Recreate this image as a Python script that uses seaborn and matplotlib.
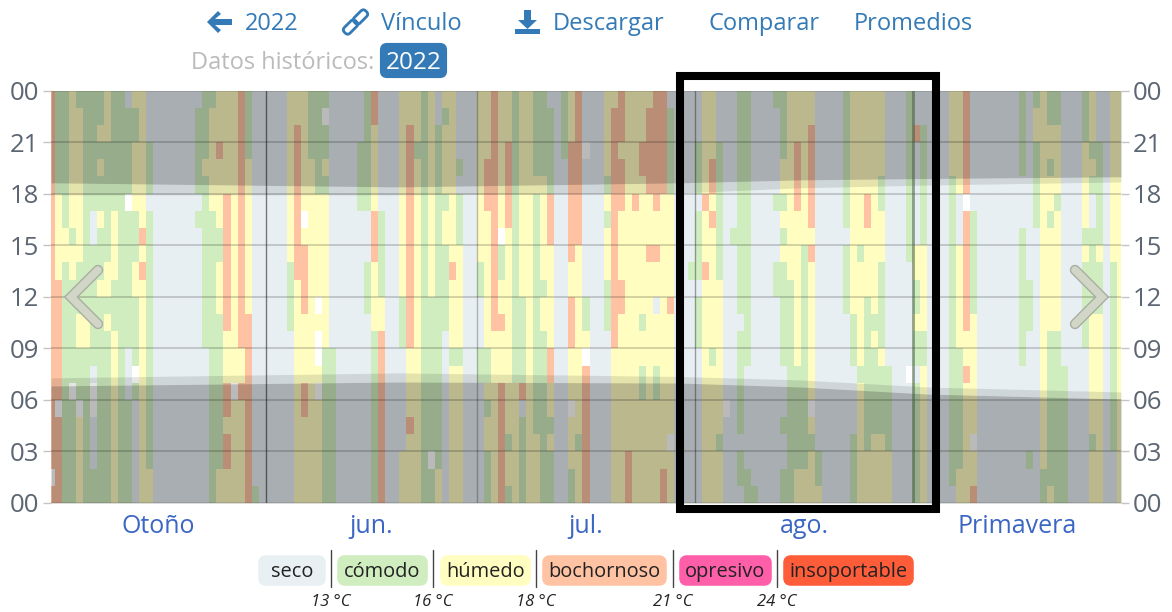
#!/usr/bin/env python3
"""Daily humidity comfort bands by hour, with night shading and page controls."""

import re

import matplotlib
matplotlib.use("Agg")
import matplotlib.pyplot as plt
import matplotlib.patheffects as pe
import numpy as np
import seaborn as sns
from matplotlib.colors import ListedColormap
from matplotlib.patches import FancyBboxPatch, Polygon, Rectangle
from matplotlib.transforms import Affine2D

# one entry per day, hours from 23 (top) down to 00; letter + run length
DAY_RUNS = [
    "b22w1b1", "c6h5b7w1b5", "c8h2c14", "h8c1h2c6w1c6", "c1h9c3h2c3w1h5", "c13h2c9",
    "c7s2c7s1w2s3c2", "c2h1c1h1c2h1c3h1c12", "h3c7h2c1h1c10", "c7h4c3h10", "c24",
    "s1c5w1c8s3c6", "h1c2h4c3h2c4w1c1s6", "h8b1h1b1h13", "s3c3s1c15h2",
    "s24", "s24", "s24", "s24", "s24", "s24", "s1c5s1c1s16", "c4h1c10s9", "c1h6c17",
    "h3b1h4c2h3c9h2", "h6b8h3b2h1b2h2", "h17w1h6", "b15h2b1h6", "c4h9b11", "s23c1",
    "s24", "s24", "s24", "s24", "h10c4s10", "h2b9h13", "h7w1h1b4h4b2h5", "c4h20",
    "c6h6w1h1w2h1w1h6", "c1w1c2h1c1h9c9", "s15c9", "s24", "s24", "s24", "s3c4s17",
    "c7s3c3s11", "b2h5b3h4c10", "s7c5h2b10", "s24", "s24",
    "h12c3s6h3", "h2b13h4b1h4", "h3c1h20", "c24", "h12c9w1c2", "s2c20h2",
    "h1c1h4c1h2c5s10", "h10b1h4c1h8", "s4c1s1c3h6c1h8", "s24", "s24", "h10c2s3c2s7",
    "h4b3h8c2h1c1h2c3", "b14h10", "h8w1c2h2b1h3b7", "h3b5h12c1h2c1", "c17h7",
    "h12c5b1s1c5", "h24", "c5h1c14h4", "c5h6c1h2c10", "s1c5b3h6b2h2c1h1c3", "s24",
    "c4s20", "h3b7h2b3h3w1h3c2", "b9h11c1h3", "s3w1s8c2h1w1b8", "s24", "s24",
    "h5c1h1c1h3c3s10", "h1b14h9", "b3h1b3h4b2h11", "h21b3", "h6b1h17",
    "h3b2h8c1h2c2h6", "h1b5h3b1h14", "b7h2b1h2s1h3c2h6", "b6h16b2", "s1c5h6b1h7w1h3",
    "s24", "s24", "s10c1s13", "s3c3s1c4s1c3s9", "h6b1h3b1h13", "h4b2h1b1h7c1h8",
    "s3c8h9c1h3", "s18w1s5", "s8c1s15", "c13s1c6s1c2s1", "c16s6c2", "s23c1", "s24",
    "s24", "c1s5c1s3c2s12", "c4h2c1h1c1h1c6s3c1s2c2", "h11c13", "h3b4h9c6h2", "h9c13h2",
    "h2b6h1b1h8w1h1c1h3", "s21c2h1", "s24", "s24", "s24", "c8s1c4s11", "h13c3s4c4",
    "h9c1h6c1h7", "h6b2h4c9h3", "h13c1h1c5h4", "h5c2h3c5h1c4h4", "s16c5h3", "s24", "s24",
    "c10s6w1s7", "s2b1s6h2c2h1c2s1c7", "s2c7h5c2h8", "s24", "s24", "s24", "h5c18s1",
    "h6s3h6c7h2", "b6w1b7h2b1h7", "s7c6h7w1h2b1", "s24", "s24", "s24", "s24", "s24", "s24",
    "c5s3c8s8", "s11c3s7c1s2", "c1h2c5s16", "h22c2", "c2h2c1h2c1h6c9h1", "c2h4c1h7c10",
    "s16c8", "s24", "s24", "c3h5c1h1c5s9", "h3c1h1c1s2c5h7c1h3", "s3c6h1c3h11", "s24",
    "h10c11s3", "h24",
]

LEVELS = ["s", "c", "h", "b", "w"]
LEVEL_COLORS = ["#E7EFF3", "#CFEDBF", "#FFFDC0", "#FFC3A3", "#FFFFFF"]

HOUR_LABELS = ["00", "21", "18", "15", "12", "09", "06", "03", "00"]
MONTH_LABELS = ["Otoño", "jun.", "jul.", "ago.", "Primavera"]

# light-curve knots, as day position and hour of day
KNOT_DAYS = [0.5, 50, 90, 107, 125, 152.5]
DUSK_DARK = [18.63, 18.39, 18.63, 18.80, 18.88, 18.98]
DUSK_LIGHT = [17.93, 17.93, 18.04, 18.34, 18.50, 18.68]
DAWN_LIGHT = [7.28, 7.57, 7.36, 7.16, 6.75, 6.46]
DAWN_DARK = [6.81, 7.04, 6.98, 6.75, 6.34, 6.05]

LEGEND_NAMES = ["seco", "cómodo", "húmedo", "bochornoso", "opresivo", "insoportable"]
LEGEND_COLORS = ["#E9F0F3", "#CFEDBF", "#FFFDC0", "#FFC3A3", "#FF5FA8", "#FF5C3A"]
LEGEND_LIMITS = ["13 °C", "16 °C", "18 °C", "21 °C", "24 °C"]

LINK = "#337AB7"
AXIS_TEXT = "#5C6672"


def decode_days() -> np.ndarray:
    columns = []
    for runs in DAY_RUNS:
        cells = []
        for letter, n in re.findall(r"([a-z])(\d+)", runs):
            cells += [LEVELS.index(letter)] * int(n)
        assert len(cells) == 24, runs
        columns.append(cells)
    return np.array(columns).T


def draw_heatmap(ax) -> None:
    sns.heatmap(
        decode_days(),
        cmap=ListedColormap(LEVEL_COLORS),
        vmin=-0.5,
        vmax=4.5,
        cbar=False,
        ax=ax,
    )
    ax.set_xlim(0.5, 152.5)
    ax.set_ylim(24, 0)

    to_y = lambda hours: 24 - np.array(hours)
    ax.fill_between(KNOT_DAYS, 0, to_y(DUSK_DARK), color="black", alpha=0.27, lw=0)
    ax.fill_between(KNOT_DAYS, to_y(DUSK_DARK), to_y(DUSK_LIGHT), color="black", alpha=0.1, lw=0)
    ax.fill_between(KNOT_DAYS, to_y(DAWN_LIGHT), to_y(DAWN_DARK), color="black", alpha=0.1, lw=0)
    ax.fill_between(KNOT_DAYS, to_y(DAWN_DARK), 24, color="black", alpha=0.27, lw=0)

    ticks = np.arange(0, 25, 3)
    for y in ticks:
        ax.axhline(y, color="black", alpha=0.2 if 0 < y < 24 else 0.12, lw=1.2)
    ax.axvline(31, color="black", alpha=0.5, lw=1.0)
    ax.axvline(61, color="black", alpha=0.25, lw=1.0)
    ax.axvline(92, color="black", alpha=0.35, lw=1.0)
    ax.axvline(123, color="#3F5A3A", alpha=0.55, lw=2.0)

    ax.set_yticks(ticks, HOUR_LABELS, rotation=0)
    ax.tick_params(axis="y", length=5.5, width=1, color="#C4C4C4",
                   labelcolor=AXIS_TEXT, labelsize=18.5, pad=3)
    right = ax.twinx()
    right.set_ylim(24, 0)
    right.set_yticks(ticks, HOUR_LABELS)
    right.tick_params(axis="y", length=5.5, width=1, color="#C4C4C4",
                      labelcolor=AXIS_TEXT, labelsize=18.5, pad=3)
    for label in ax.get_yticklabels() + right.get_yticklabels():
        label.set_verticalalignment("center_baseline")

    ax.set_xticks([31, 61], ["", ""])
    ax.tick_params(axis="x", length=6.5, width=1, color="#C8C8C8")
    ax.set_xticks([15.75, 46, 76.5, 107.5, 137.75], MONTH_LABELS, minor=True)
    ax.tick_params(axis="x", which="minor", length=0, labelsize=18,
                   labelcolor="#3B66C4", pad=8)
    for ax_ in (ax, right):
        sns.despine(ax=ax_, left=True, bottom=True)


def draw_icons(ui) -> None:
    # back arrow
    ui.add_patch(Polygon(
        [(207, 22), (218, 11), (221, 14), (215, 19), (232, 19), (232, 25), (215, 25),
         (221, 30), (218, 33)],
        color=LINK, lw=0,
    ))
    # chain link
    for cx, cy in [(360.5, 17), (350.5, 27)]:
        ui.add_patch(FancyBboxPatch(
            (-4, -8), 8, 16, boxstyle="round,pad=0,rounding_size=3.5", fill=False,
            ec=LINK, lw=2.0,
            transform=Affine2D().rotate_deg(45).translate(cx, cy) + ui.transData,
        ))
    # download tray and arrow
    ui.add_patch(Polygon(
        [(524, 10), (531, 10), (531, 20), (537, 20), (527.5, 29), (518, 20), (524, 20)],
        color=LINK, lw=0,
    ))
    ui.add_patch(Rectangle((515, 29), 25, 5, color=LINK, lw=0))


def draw_controls(ui) -> None:
    draw_icons(ui)
    nav_font = dict(color=LINK, fontsize=17, va="center", ha="left")
    for x, label in [(245, "2022"), (381, "Vínculo"), (553, "Descargar"),
                     (708, "Comparar"), (854, "Promedios")]:
        ui.text(x, 23.5, label, **nav_font)
    ui.text(191, 63, "Datos históricos:", color="#BBBBBB", fontsize=17, va="center")
    ui.add_patch(FancyBboxPatch((382, 45), 63, 31, boxstyle="round,pad=0,rounding_size=5",
                                mutation_aspect=1, fc=LINK, ec=LINK, lw=3))
    ui.text(413.5, 63, "2022", color="white", fontsize=17.5, ha="center", va="center")

    # prev / next chevrons
    for xs in ([98, 71, 98], [1075, 1102, 1075]):
        ui.plot(xs, [270, 297, 324], color="#D6DBCB", alpha=0.9, lw=5.5,
                solid_capstyle="round", solid_joinstyle="miter",
                path_effects=[pe.Stroke(linewidth=7.5, foreground="#A9ADA3"), pe.Normal()])

    # selection frame round August
    ui.add_patch(Rectangle((680, 75.5), 256, 433, fill=False, ec="black", lw=5.8,
                           joinstyle="miter"))


def draw_legend(ui) -> None:
    left = [258, 337, 440, 542, 679, 783]
    right = [326, 428, 531, 667, 772, 914]
    for x0, x1, name, color in zip(left, right, LEGEND_NAMES, LEGEND_COLORS):
        ui.add_patch(FancyBboxPatch((x0 + 3, 558), x1 - x0 - 6, 25,
                                    boxstyle="round,pad=0,rounding_size=5",
                                    fc=color, ec=color, lw=4))
        ui.text((x0 + x1) / 2, 572, name, color="#222222", fontsize=14.4,
                ha="center", va="center")
    for x, label in zip([331, 433, 536, 673, 777], LEGEND_LIMITS):
        ui.plot([x, x], [550, 587], color="#444444", lw=1)
        ui.text(x, 602, label, color="#222222", fontsize=12, style="italic",
                ha="center", va="center")


def main() -> None:
    sns.set_theme(style="white")
    plt.rcParams["font.family"] = ["Open Sans", "DejaVu Sans"]

    fig = plt.figure(figsize=(11.72, 6.12), dpi=100)
    ax = fig.add_axes([51 / 1172, (612 - 503) / 612, 1070 / 1172, 412.5 / 612])
    draw_heatmap(ax)

    ui = fig.add_axes([0, 0, 1, 1], zorder=5)
    ui.set_xlim(0, 1172)
    ui.set_ylim(612, 0)
    ui.axis("off")
    draw_controls(ui)
    draw_legend(ui)

    fig.savefig("out.png", dpi=100)
    plt.close(fig)


if __name__ == "__main__":
    main()
